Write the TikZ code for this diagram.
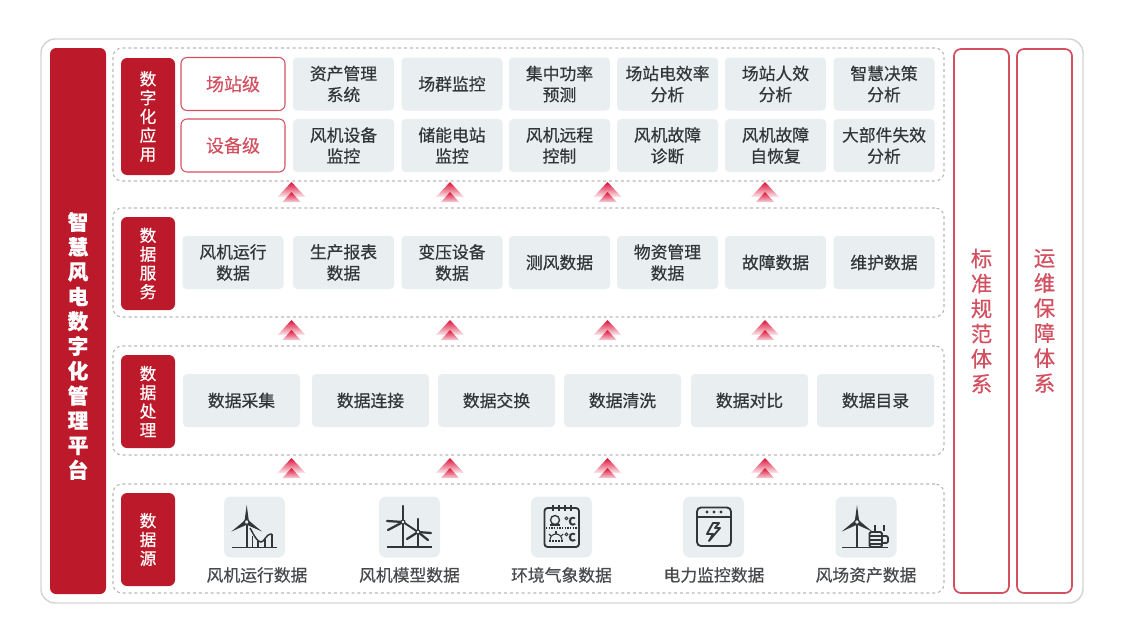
\documentclass[tikz,border=0pt]{standalone}
\usepackage{fontspec}
\setmainfont{Noto Sans CJK SC}[FakeBold=.5]
\definecolor{brandred}{HTML}{BC1A2B}
\definecolor{linered}{HTML}{D2505F}
\definecolor{arrowred}{HTML}{DC0F36}
\definecolor{cellgray}{HTML}{E9EEF1}
\definecolor{inkgray}{HTML}{333638}
\begin{document}
\begin{tikzpicture}[line cap=butt]

% size of one reference pixel
\def\sz{.75pt}
% node style definition
\tikzstyle{frame} = [
	draw, rectangle, inner sep=0pt, align=center];
\tikzstyle{outer} = [frame, draw=black!17, line width=1.1pt, rounded corners=14*\sz,
	minimum width=1042*\sz, minimum height=564*\sz];
\tikzstyle{panel} = [frame, draw=black!28, line width=.8pt, dash pattern=on 2.2pt off 2.2pt,
	rounded corners=9*\sz, minimum width=831*\sz];
\tikzstyle{tag} = [frame, draw=none, fill=brandred, text=white, rounded corners=6*\sz,
	minimum width=54*\sz, font=\fontsize{12.5}{14.1}\selectfont];
\tikzstyle{level} = [frame, draw=linered, line width=.8pt, text=linered, rounded corners=6*\sz,
	minimum width=104*\sz, minimum height=53*\sz, font=\fontsize{13.5}{15}\selectfont];
\tikzstyle{cell} = [frame, draw=none, fill=cellgray, text=inkgray, rounded corners=4*\sz,
	minimum width=101*\sz, minimum height=53*\sz, font=\fontsize{12.6}{15.8}\selectfont];
\tikzstyle{widecell} = [cell, minimum width=117*\sz];
\tikzstyle{iconbox} = [cell, minimum width=61*\sz, minimum height=61*\sz, rounded corners=7*\sz];
\tikzstyle{caption} = [frame, draw=none, text=inkgray!90, font=\fontsize{12.6}{15}\selectfont];
\tikzstyle{side} = [frame, draw=linered, line width=1.3pt, text=linered, rounded corners=7*\sz,
	minimum width=55*\sz, minimum height=544*\sz, font=\fontsize{16}{18.8}\selectfont];
\tikzstyle{ink} = [draw=inkgray, line width=1.4pt];
\tikzstyle{thin ink} = [draw=inkgray, line width=.8pt];
\tikzstyle{blade} = [draw=inkgray, line width=1.7pt, line cap=round];

% up arrow between two panels, origin at its tip
\tikzset{uparrow/.pic={
	\shade[top color=arrowred, middle color=arrowred!92, bottom color=arrowred!8]
		(0,0) -- (14*\sz,-15*\sz) -- (-14*\sz,-15*\sz) -- cycle;
	\shade[top color=arrowred, middle color=arrowred!88, bottom color=arrowred!20]
		(0,-10*\sz) -- (9*\sz,-20*\sz) -- (-9*\sz,-20*\sz) -- cycle;
}}
% wind turbine, origin at its hub
\tikzset{rotor/.pic={
	\fill[inkgray] (-2.3*\sz,0) -- (0,17*\sz) -- (2.3*\sz,0) -- cycle;
	\fill[inkgray,rotate=122] (-2.5*\sz,0) -- (0,18*\sz) -- (2.5*\sz,0) -- cycle;
	\fill[inkgray,rotate=-122] (-2.5*\sz,0) -- (0,18*\sz) -- (2.5*\sz,0) -- cycle;
	\filldraw[ink,fill=cellgray,line width=.9pt] (0,0) circle (2.4*\sz);
}}

\useasboundingbox (0,0) rectangle (1129*\sz,-621*\sz);

\node[outer] (outline) at (562*\sz,-321*\sz) {};
\node[frame,draw=none,fill=brandred,rounded corners=6*\sz,minimum width=56*\sz,
	minimum height=546*\sz] (platform) at (78*\sz,-321*\sz) {};
\node[inner sep=0pt,align=center,text=white,font=\bfseries\fontsize{15.5}{18.6}\selectfont] (platformtext)
	at (78*\sz,-346*\sz) {智\\慧\\风\\电\\数\\字\\化\\管\\理\\平\\台};

\node[panel,minimum height=133*\sz] (pApp) at (528.5*\sz,-114.5*\sz) {};
\node[panel,minimum height=109*\sz] (pSrv) at (528.5*\sz,-262.5*\sz) {};
\node[panel,minimum height=109*\sz] (pPro) at (528.5*\sz,-400.5*\sz) {};
\node[panel,minimum height=109*\sz] (pSou) at (528.5*\sz,-538.5*\sz) {};

\node[tag,minimum height=117*\sz] (tApp) at (148*\sz,-116.5*\sz) {数\\字\\化\\应\\用};
\node[tag,minimum height=93*\sz] (tSrv) at (148*\sz,-263.5*\sz) {数\\据\\服\\务};
\node[tag,minimum height=93*\sz] (tPro) at (148*\sz,-401.5*\sz) {数\\据\\处\\理};
\node[tag,minimum height=93*\sz] (tSou) at (148*\sz,-539.5*\sz) {数\\据\\源};

\node[level] (l1) at (233*\sz,-84*\sz) {场站级};
\node[level] (l2) at (233*\sz,-145.5*\sz) {设备级};

\node[cell] (a1) at (343.5*\sz,-84*\sz) {资产管理\\系统};
\node[cell] (a2) at (452*\sz,-84*\sz) {场群监控};
\node[cell] (a3) at (559.5*\sz,-84*\sz) {集中功率\\预测};
\node[cell] (a4) at (667.5*\sz,-84*\sz) {场站电效率\\分析};
\node[cell] (a5) at (775.5*\sz,-84*\sz) {场站人效\\分析};
\node[cell] (a6) at (884*\sz,-84*\sz) {智慧决策\\分析};

\node[cell] (b1) at (343.5*\sz,-145.5*\sz) {风机设备\\监控};
\node[cell] (b2) at (452*\sz,-145.5*\sz) {储能电站\\监控};
\node[cell] (b3) at (559.5*\sz,-145.5*\sz) {风机远程\\控制};
\node[cell] (b4) at (667.5*\sz,-145.5*\sz) {风机故障\\诊断};
\node[cell] (b5) at (775.5*\sz,-145.5*\sz) {风机故障\\自恢复};
\node[cell] (b6) at (884*\sz,-145.5*\sz) {大部件失效\\分析};

\node[cell] (c0) at (233*\sz,-262.5*\sz) {风机运行\\数据};
\node[cell] (c1) at (343.5*\sz,-262.5*\sz) {生产报表\\数据};
\node[cell] (c2) at (452*\sz,-262.5*\sz) {变压设备\\数据};
\node[cell] (c3) at (559.5*\sz,-262.5*\sz) {测风数据};
\node[cell] (c4) at (667.5*\sz,-262.5*\sz) {物资管理\\数据};
\node[cell] (c5) at (775.5*\sz,-262.5*\sz) {故障数据};
\node[cell] (c6) at (884*\sz,-262.5*\sz) {维护数据};

\node[widecell] (d1) at (241.5*\sz,-400.5*\sz) {数据采集};
\node[widecell] (d2) at (370.5*\sz,-400.5*\sz) {数据连接};
\node[widecell] (d3) at (496.5*\sz,-400.5*\sz) {数据交换};
\node[widecell] (d4) at (622.5*\sz,-400.5*\sz) {数据清洗};
\node[widecell] (d5) at (749.5*\sz,-400.5*\sz) {数据对比};
\node[widecell] (d6) at (875.5*\sz,-400.5*\sz) {数据目录};

\node[iconbox] (i1) at (254.5*\sz,-527*\sz) {};
\node[iconbox] (i2) at (409.5*\sz,-527*\sz) {};
\node[iconbox] (i3) at (561.5*\sz,-527*\sz) {};
\node[iconbox] (i4) at (713.5*\sz,-527*\sz) {};
\node[iconbox] (i5) at (866*\sz,-527*\sz) {};

\node[caption] (e1) at (257*\sz,-575*\sz) {风机运行数据};
\node[caption] (e2) at (409.5*\sz,-575*\sz) {风机模型数据};
\node[caption] (e3) at (561.5*\sz,-575*\sz) {环境气象数据};
\node[caption] (e4) at (714*\sz,-575*\sz) {电力监控数据};
\node[caption] (e5) at (866*\sz,-575*\sz) {风场资产数据};

\node[side] (std) at (981.5*\sz,-321*\sz) {标\\准\\规\\范\\体\\系};
\node[side] (ops) at (1044.5*\sz,-321*\sz) {运\\维\\保\\障\\体\\系};

\pic at (291.5*\sz,-182*\sz) {uparrow};
\pic at (450*\sz,-182*\sz) {uparrow};
\pic at (607.5*\sz,-182*\sz) {uparrow};
\pic at (765*\sz,-182*\sz) {uparrow};
\pic at (291.5*\sz,-320*\sz) {uparrow};
\pic at (450*\sz,-320*\sz) {uparrow};
\pic at (607.5*\sz,-320*\sz) {uparrow};
\pic at (765*\sz,-320*\sz) {uparrow};
\pic at (291.5*\sz,-458*\sz) {uparrow};
\pic at (450*\sz,-458*\sz) {uparrow};
\pic at (607.5*\sz,-458*\sz) {uparrow};
\pic at (765*\sz,-458*\sz) {uparrow};

% icon 1
\draw[ink] (246.7*\sz,-522*\sz) -- (246.7*\sz,-547.5*\sz);
\draw[ink] (232*\sz,-547.5*\sz) -- (277*\sz,-547.5*\sz);
\draw[thin ink,line width=1.1pt] (250*\sz,-528*\sz) .. controls (254*\sz,-535*\sz) and (257*\sz,-542*\sz) .. (261*\sz,-542*\sz)
	.. controls (265*\sz,-542*\sz) and (265*\sz,-534*\sz) .. (272*\sz,-534*\sz);
\draw[ink] (252.5*\sz,-547.5*\sz) -- (252.5*\sz,-536*\sz);
\draw[ink] (258*\sz,-547.5*\sz) -- (258*\sz,-541*\sz);
\draw[ink] (265*\sz,-547.5*\sz) -- (265*\sz,-539*\sz);
\draw[ink] (272*\sz,-547.5*\sz) -- (272*\sz,-534*\sz);
\pic at (246.7*\sz,-522*\sz) {rotor};

% icon 2
\draw[ink] (403*\sz,-522*\sz) -- (403*\sz,-547*\sz);
\draw[ink] (387*\sz,-547*\sz) -- (432*\sz,-547*\sz);
\draw[ink] (418*\sz,-532*\sz) -- (418*\sz,-547*\sz);
\draw[ink] (403*\sz,-522*\sz) -- (418*\sz,-532*\sz);
\draw[blade] (403*\sz,-522*\sz) -- (387*\sz,-521*\sz);
\draw[blade] (403*\sz,-522*\sz) -- (388*\sz,-530*\sz);
\draw[blade] (403*\sz,-522*\sz) -- (403*\sz,-506*\sz);
\draw[blade] (418*\sz,-532*\sz) -- (418*\sz,-519*\sz);
\draw[blade] (418*\sz,-532*\sz) -- (431*\sz,-533*\sz);
\draw[blade] (418*\sz,-532*\sz) -- (428*\sz,-540*\sz);
\draw[blade] (418*\sz,-532*\sz) -- (407*\sz,-539*\sz);
\filldraw[ink,fill=cellgray,line width=.8pt] (403*\sz,-522*\sz) circle (2*\sz);
\filldraw[ink,fill=cellgray,line width=.8pt] (418*\sz,-532*\sz) circle (2*\sz);

% icon 3
\draw[ink,rounded corners=3*\sz] (544.5*\sz,-508*\sz) rectangle (579*\sz,-547*\sz);
\draw[ink] (553*\sz,-505*\sz) -- (553*\sz,-511*\sz);
\draw[ink] (559*\sz,-505*\sz) -- (559*\sz,-511*\sz);
\draw[ink] (565*\sz,-505*\sz) -- (565*\sz,-511*\sz);
\draw[ink] (571*\sz,-505*\sz) -- (571*\sz,-511*\sz);
\draw[thin ink,dash pattern=on 1pt off 1pt] (546*\sz,-528*\sz) -- (578*\sz,-528*\sz);
\draw[thin ink,line width=1pt] (555*\sz,-520*\sz) circle (4.5*\sz);
\draw[thin ink,line width=1pt] (550*\sz,-525*\sz) -- (560*\sz,-525*\sz);
\draw[thin ink] (550*\sz,-540*\sz) arc (180:0:6*\sz);
\draw[thin ink,dash pattern=on 1.5pt off .7pt] (549*\sz,-541*\sz) -- (563*\sz,-541*\sz);
\draw[thin ink] (556*\sz,-534*\sz) -- (556*\sz,-531*\sz);
\draw[thin ink] (551*\sz,-536*\sz) -- (549*\sz,-534*\sz);
\draw[thin ink] (561*\sz,-536*\sz) -- (563*\sz,-534*\sz);
\node[inner sep=0pt,text=inkgray,font=\bfseries\fontsize{8.5}{9}\selectfont] (t1) at (570*\sz,-521*\sz) {℃};
\node[inner sep=0pt,text=inkgray,font=\bfseries\fontsize{8.5}{9}\selectfont] (t2) at (570*\sz,-537*\sz) {℃};

% icon 4
\draw[ink,rounded corners=4*\sz] (697*\sz,-507.5*\sz) rectangle (731*\sz,-546*\sz);
\draw[ink] (697*\sz,-517*\sz) -- (731*\sz,-517*\sz);
\fill[inkgray] (707*\sz,-512*\sz) circle (1.6*\sz);
\fill[inkgray] (714*\sz,-512*\sz) circle (1.6*\sz);
\fill[inkgray] (721*\sz,-512*\sz) circle (1.6*\sz);
\draw[ink,line join=round] (713*\sz,-523*\sz) -- (707*\sz,-534*\sz) -- (713*\sz,-534*\sz)
	-- (709*\sz,-541*\sz) -- (720*\sz,-528*\sz) -- (715*\sz,-528*\sz) -- (719*\sz,-523*\sz) -- cycle;

% icon 5
\draw[ink] (857*\sz,-522*\sz) -- (857*\sz,-547.5*\sz);
\draw[ink] (842*\sz,-547.5*\sz) -- (888*\sz,-547.5*\sz);
\draw[ink,fill=cellgray,rounded corners=1.5*\sz] (869.5*\sz,-532*\sz) rectangle (882*\sz,-547*\sz);
\draw[thin ink,line width=1.1pt] (870*\sz,-536*\sz) -- (882*\sz,-536*\sz);
\draw[thin ink,line width=1.1pt] (870*\sz,-540*\sz) -- (882*\sz,-540*\sz);
\draw[thin ink,line width=1.1pt] (870*\sz,-544*\sz) -- (882*\sz,-544*\sz);
\draw[ink,rounded corners=2*\sz] (882*\sz,-536*\sz) -- (888*\sz,-536*\sz) -- (888*\sz,-543*\sz) -- (882*\sz,-543*\sz);
\draw[thin ink] (875*\sz,-530.5*\sz) -- (875*\sz,-525*\sz);
\draw[thin ink] (884*\sz,-530.5*\sz) -- (884*\sz,-525*\sz);
\pic at (857*\sz,-522*\sz) {rotor};

\end{tikzpicture}
\end{document}
